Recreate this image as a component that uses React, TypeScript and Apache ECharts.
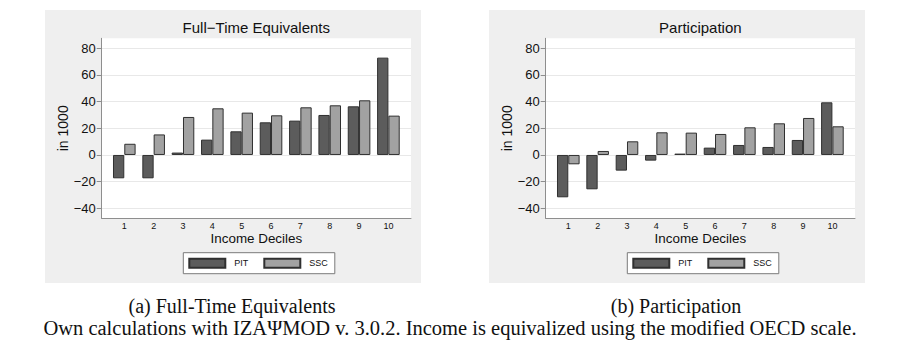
import React, { useEffect, useRef } from 'react';
import * as echarts from 'echarts';

const deciles = [1, 2, 3, 4, 5, 6, 7, 8, 9, 10];
const ftePit = [-17.5, -17.5, 1.8, 11.5, 17.75, 24.5, 25.75, 30, 36.5, 73];
const fteSsc = [8.4, 15.4, 28.5, 35, 31.75, 29.75, 35.75, 37.25, 41, 29.5];
const partPit = [-31.75, -25.75, -11.75, -4.25, 1, 5.5, 7.5, 6, 11.25, 39.5];
const partSsc = [-7, 3, 10.25, 17, 16.75, 15.75, 20.75, 23.75, 27.75, 21.5];
const yTicks = [-40, -20, 0, 20, 40, 60, 80];
const seriesNames = ['PIT', 'SSC'];
const panelTitles = ['Full\u2212Time Equivalents', 'Participation'];
const captions = ['(a) Full-Time Equivalents', '(b) Participation'];
const footnote = 'Own calculations with IZA\u03A8MOD v. 3.0.2. Income is equivalized using the modified OECD scale.';
const xAxisName = 'Income Deciles';
const yAxisName = 'in 1000';

const SANS = "'Liberation Sans', Arial, Helvetica, sans-serif";
const SERIF = "'Liberation Serif', 'Times New Roman', serif";
const DX = 444;
const PIT_COLOR = '#5c5c5c';
const SSC_COLOR = '#a2a2a2';
const AXIS_COLOR = '#8e8e8e';

export default function App() {
  const ref = useRef<HTMLDivElement>(null);
  useEffect(() => {
    const chart = echarts.init(ref.current!, null, { renderer: 'svg' });
    const panels = [
      { pit: ftePit, ssc: fteSsc },
      { pit: partPit, ssc: partSsc },
    ];
    const grid = panels.map((_, i) => ({
      left: 101.7 + i * DX,
      top: 38.3,
      width: 309.3,
      height: 180,
      show: true,
      backgroundColor: '#ffffff',
      borderWidth: 0,
    }));
    const xAxis = panels.map((_, i) => ({
      type: 'value',
      gridIndex: i,
      min: 0.23,
      max: 10.77,
      name: xAxisName,
      nameLocation: 'middle',
      nameGap: 13.5,
      nameTextStyle: { fontSize: 13.4, fontFamily: SANS, color: '#111' },
      axisLine: { show: true, onZero: false, lineStyle: { color: AXIS_COLOR, width: 1 } },
      axisTick: { show: false },
      splitLine: { show: false },
      axisLabel: { customValues: deciles, fontSize: 9, fontFamily: SANS, color: '#111', margin: 3 },
    }));
    const yAxis = panels.map((_, i) => ({
      type: 'value',
      gridIndex: i,
      min: -47.5,
      max: 87.5,
      name: yAxisName,
      nameLocation: 'middle',
      nameGap: 30,
      nameTextStyle: { fontSize: 14, fontFamily: SANS, color: '#111' },
      axisLine: { show: true, lineStyle: { color: AXIS_COLOR, width: 1 } },
      axisTick: { show: true, length: 5, customValues: yTicks, lineStyle: { color: AXIS_COLOR } },
      splitLine: { show: true, lineStyle: { color: '#e8e8e8', width: 1 } },
      axisLabel: {
        customValues: yTicks,
        fontSize: 13,
        fontFamily: SANS,
        color: '#111',
        margin: 6,
        formatter: (v: number) => String(v).replace('-', '\u2212'),
      },
    }));
    const series = panels.flatMap((p, i) => [
      {
        type: 'bar',
        name: seriesNames[0],
        xAxisIndex: i,
        yAxisIndex: i,
        data: deciles.map((d, k) => [d, p.pit[k]]),
        barWidth: 11.3,
        barGap: '0%',
        itemStyle: { color: PIT_COLOR, borderColor: '#303030', borderWidth: 1 },
      },
      {
        type: 'bar',
        name: seriesNames[1],
        xAxisIndex: i,
        yAxisIndex: i,
        data: deciles.map((d, k) => [d, p.ssc[k]]),
        barWidth: 11.3,
        barGap: '0%',
        itemStyle: { color: SSC_COLOR, borderColor: '#303030', borderWidth: 1 },
      },
    ]);
    const legend = panels.map((_, i) => ({
      data: seriesNames,
      left: 183.3 + i * DX,
      top: 252.7,
      orient: 'horizontal',
      icon: 'rect',
      itemWidth: 36,
      itemHeight: 9,
      itemGap: 15,
      padding: [5, 7, 5, 5],
      backgroundColor: '#ffffff',
      borderColor: '#7a7a7a',
      borderWidth: 1,
      selectedMode: false,
      textStyle: { fontSize: 9, fontFamily: SANS, color: '#111', padding: [0, 0, 0, 4] },
    }));
    const graphic: any[] = [];
    panels.forEach((_, i) => {
      graphic.push({
        type: 'rect',
        z: -10,
        shape: { x: 45 + i * DX, y: 10, width: 376, height: 273 },
        style: { fill: '#efefef' },
        silent: true,
      });
      graphic.push({
        type: 'text',
        x: 256.3 + i * DX,
        y: 27.3,
        style: {
          text: panelTitles[i],
          fontSize: 15,
          fontFamily: SANS,
          fill: '#111',
          align: 'center',
          verticalAlign: 'middle',
        },
      });
      graphic.push({
        type: 'text',
        x: 232 + i * DX,
        y: 306,
        style: {
          text: captions[i],
          fontSize: 20,
          fontFamily: SERIF,
          fill: '#111',
          align: 'center',
          verticalAlign: 'middle',
        },
      });
    });
    graphic.push({
      type: 'text',
      x: 450,
      y: 328,
      style: {
        text: footnote,
        fontSize: 20.5,
        fontFamily: SERIF,
        fill: '#111',
        align: 'center',
        verticalAlign: 'middle',
      },
    });
    chart.setOption({
      animation: false,
      backgroundColor: '#ffffff',
      grid,
      xAxis,
      yAxis,
      series,
      legend,
      graphic,
    } as any);
    return () => chart.dispose();
  }, []);
  return (
    <div
      ref={ref}
      style={{ position: 'absolute', left: 0, top: 0, width: 904, height: 360 }}
    />
  );
}
